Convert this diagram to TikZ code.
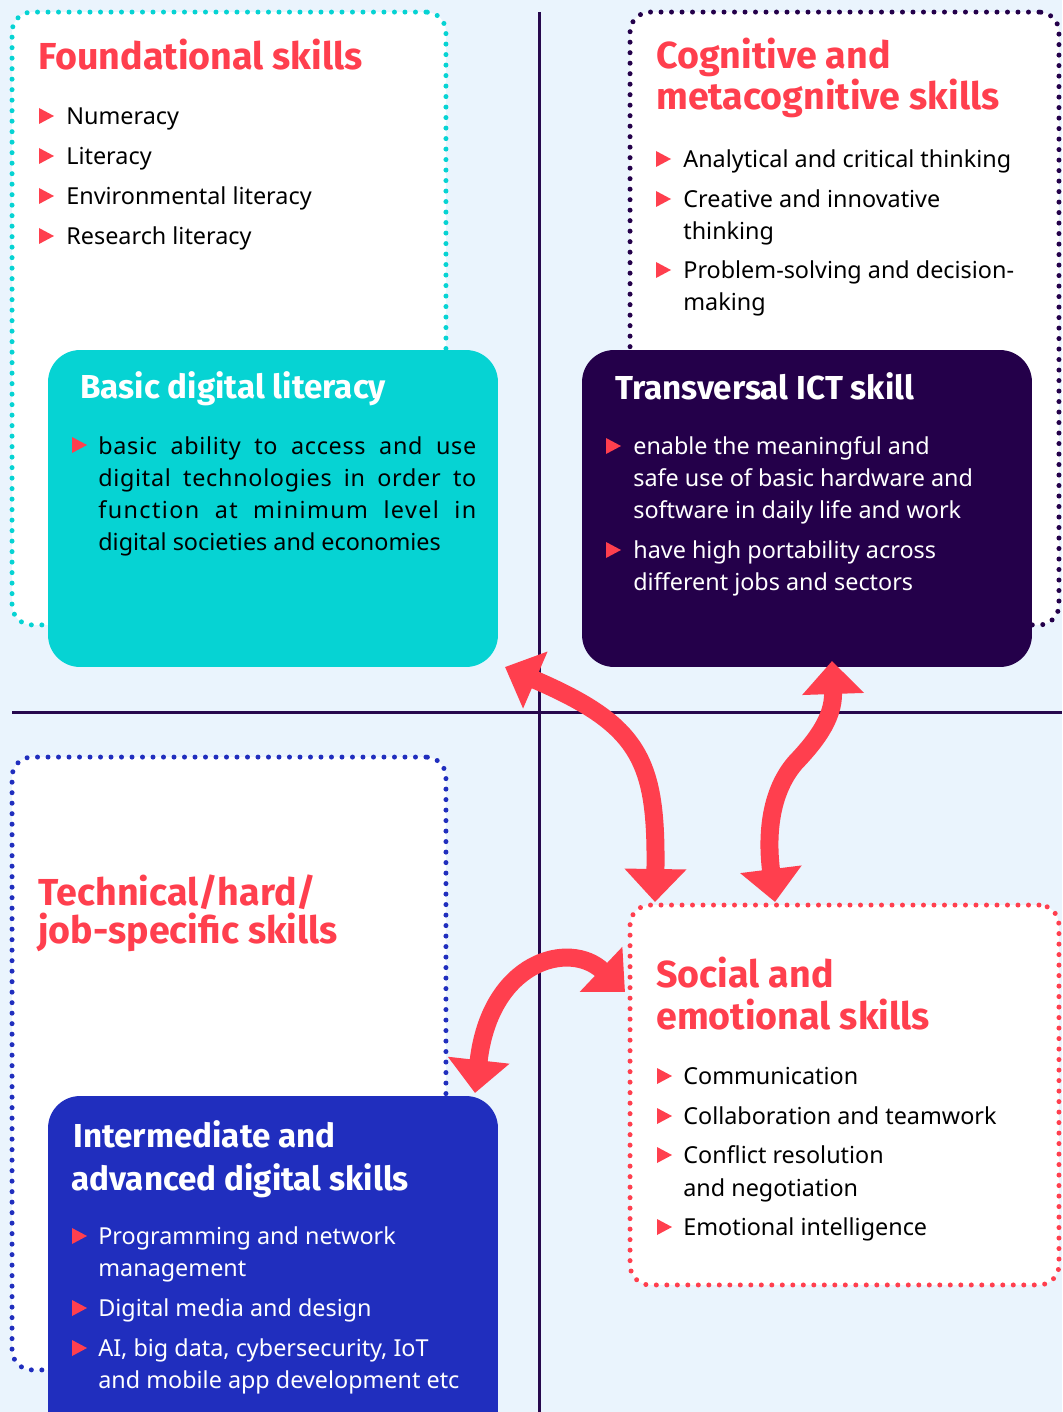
\documentclass[tikz,border=0pt]{standalone}
\usepackage{fontspec}
\setmainfont{Noto Sans}
\newfontfamily\headfont{Fira Sans}
\usetikzlibrary{arrows.meta}

\definecolor{skillred}{HTML}{FF3F4E}
\definecolor{skillcyan}{HTML}{06D3D3}
\definecolor{skillpurple}{HTML}{24004A}
\definecolor{skillblue}{HTML}{202EBE}
\definecolor{skillbg}{HTML}{EAF4FD}
\definecolor{gridline}{HTML}{27084D}

\begin{document}
\begin{tikzpicture}[x=0.02cm, y=-0.02cm,
  title/.style={anchor=base west, inner sep=0, text=skillred, font=\headfont\bfseries\fontsize{21.4}{25}\selectfont},
  head/.style={anchor=base west, inner sep=0, text=white, font=\headfont\bfseries\fontsize{18.9}{22}\selectfont},
  item/.style={anchor=base west, inner sep=0, font=\fontsize{13.3}{18}\selectfont},
  dotbox/.style={draw=#1, fill=white, rounded corners=0.4cm, line width=0.1cm, line cap=round, dash pattern=on 0pt off 0.21cm},
  fillbox/.style={fill=#1, rounded corners=0.64cm, inner sep=0},
  link/.style={draw=skillred, line width=0.36cm, {Triangle[width=1.2cm,length=0.66cm]}-{Triangle[width=1.2cm,length=0.66cm]}}]
\useasboundingbox (0,0) rectangle (1062,1412);
\clip (0,0) rectangle (1062,1412);
\fill[skillbg] (0,0) rectangle (1062,1412);

% quadrant lines
\draw[gridline, line width=0.06cm] (539,12) -- (539,1412);
\draw[gridline, line width=0.06cm] (12,712) -- (1062,712);

% outer dotted boxes
\node[dotbox=skillcyan, minimum width=8.68cm, minimum height=12.26cm] (found) at (229,318.5) {};
\node[dotbox=skillpurple, minimum width=8.58cm, minimum height=12.26cm] (cogn) at (844.5,318.5) {};
\node[dotbox=skillblue, minimum width=8.68cm, minimum height=12.26cm] (tech) at (229,1063.5) {};
\node[dotbox=skillred, minimum width=8.58cm, minimum height=7.6cm] (social) at (844.5,1095) {};

% filled boxes
\node[fillbox=skillcyan, minimum width=9cm, minimum height=6.34cm] (basic) at (273,508.5) {};
\node[fillbox=skillpurple, minimum width=9cm, minimum height=6.34cm] (ict) at (807,508.5) {};
\node[fillbox=skillblue, minimum width=9cm, minimum height=7.2cm] (adv) at (273,1276) {};

% arrows
\coordinate (a1s) at (505,667);
\coordinate (a1e) at (655,902);
\coordinate (a2s) at (832,661);
\coordinate (a2m) at (795,763);
\coordinate (a2e) at (775,902);
\coordinate (a3s) at (625,992);
\coordinate (a3e) at (475,1093);
\draw[link] (a1s) .. controls (640,725) and (657,760) .. (a1e);
\draw[link] (a2s) .. controls (834,720) and (812,745) .. (a2m) .. controls (772,790) and (766,830) .. (a2e);
\draw[link] (a3s) .. controls (570,940) and (490,960) .. (a3e);

% bullets
\foreach \x/\y in {39/116, 39/156, 39/196, 39/236, 656/159, 656/199, 656/270, 72/445, 606/446, 606/550,
                   657/1076, 657/1116, 657/1155, 657/1227, 72/1236, 72/1308, 72/1348}
  \fill[skillred] (\x,\y-8) -- ++(15,8) -- ++(-15,8) -- cycle;

% titles
\node[title] (t1) at (38,70) {Foundational skills};
\node[title] (t2) at (656,69) {Cognitive and};
\node[title] (t3) at (656,110) {metacognitive skills};
\node[title] (t4) at (38,905) {Technical/hard/};
\node[title] (t5) at (38,943) {job-specific skills};
\node[title] (t6) at (656,987) {Social and};
\node[title] (t7) at (656,1029) {emotional skills};
\node[head] (h1) at (80,398) {Basic digital literacy};
\node[head] (h2) at (615,399) {Transversal ICT skill};
\node[head] (h3) at (73,1147) {Intermediate and};
\node[head] (h4) at (71,1190) {advanced digital skills};

% lists
\foreach \y/\t [count=\i] in {125/Numeracy, 165/Literacy, 205/Environmental literacy, 245/Research literacy}
  \node[item] (fnd\i) at (66,\y) {\t};
\foreach \y/\t [count=\i] in {168/Analytical and critical thinking, 208/Creative and innovative, 240/thinking,
                              279/Problem-solving and decision-, 311/making}
  \node[item] (cog\i) at (683,\y) {\t};
\node[item] (bas1) at (98,454) {\addfontfeature{LetterSpace=3}\makebox[7.56cm][s]{basic ability to access and use}};
\node[item] (bas2) at (98,486) {\addfontfeature{LetterSpace=3}\makebox[7.56cm][s]{digital technologies in order to}};
\node[item] (bas3) at (98,518) {\addfontfeature{LetterSpace=6}\makebox[7.56cm][s]{function at minimum level in}};
\node[item] (bas4) at (98,550) {digital societies and economies};
\foreach \y/\t [count=\i] in {454/enable the meaningful and, 486/safe use of basic hardware and,
                              518/software in daily life and work, 558/have high portability across,
                              590/different jobs and sectors}
  \node[item, text=white] (ict\i) at (633,\y) {\t};
\foreach \y/\t [count=\i] in {1084/Communication, 1124/Collaboration and teamwork, 1163/Conflict resolution,
                              1196/and negotiation, 1235/Emotional intelligence}
  \node[item] (soc\i) at (683,\y) {\t};
\foreach \y/\t [count=\i] in {1244/Programming and network, 1276/management, 1316/Digital media and design,
                              1356/{AI, big data, cybersecurity, IoT}, 1388/and mobile app development etc}
  \node[item, text=white] (adv\i) at (98,\y) {\t};
\end{tikzpicture}
\end{document}
